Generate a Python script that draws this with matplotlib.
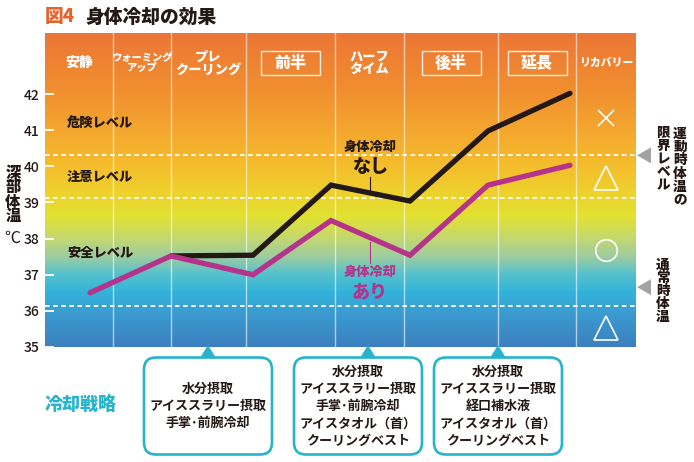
import matplotlib
matplotlib.use('Agg')
import matplotlib.pyplot as plt
import numpy as np
from matplotlib.colors import LinearSegmentedColormap
from matplotlib.patches import FancyBboxPatch, Rectangle, Polygon
import matplotlib.transforms as mtransforms

plt.rcParams['font.family'] = ['Noto Sans CJK JP', 'DejaVu Sans']

# ---------------- data ----------------
title_num = '図4'
title_text = '身体冷却の効果'
phases = ['安静', 'ウォーミング\nアップ', 'プレ\nクーリング', '前半', 'ハーフ\nタイム',
          '後半', '延長', 'リカバリー']
phase_sizes = [10, 7.4, 9.5, 11.5, 9.5, 11.5, 11.5, 7.8]
boxed_phases = ['前半', '後半', '延長']
phase_edges = [0, 68, 126, 201, 290, 359, 453, 531, 591]

x_cool = [45, 126, 208, 286, 365, 443, 525]
temp_cool = [36.5, 37.52, 37.0, 38.5, 37.54, 39.48, 40.03]
x_nocool = [126, 208, 286, 365, 443, 525]
temp_nocool = [37.52, 37.54, 39.48, 39.04, 40.98, 42.02]

yticks = [35, 36, 37, 38, 39, 40, 41, 42]
thresholds = [40.3, 39.13, 36.13]
levels = ['危険レベル', '注意レベル', '安全レベル']
level_temps = [41.2, 39.7, 37.6]
recovery_marks = ['x', '^', 'o', '^']
recovery_temps = [41.35, 39.68, 37.68, 35.52]

ref_temps = [40.3, 36.65]
ref_labels = [('運動時体温の', '限界レベル'), ('通常時体温',)]

strategy_title = '冷却戦略'
strategies = ['水分摂取\nアイススラリー摂取\n手掌･前腕冷却',
              '水分摂取\nアイススラリー摂取\n手掌･前腕冷却\nアイスタオル（首）\nクーリングベスト',
              '水分摂取\nアイススラリー摂取\n経口補水液\nアイスタオル（首）\nクーリングベスト']
strategy_pointer_x = [163, 323, 453]
strategy_box_x = [163, 313, 453]

# ---------------- styles ----------------
BLACK = '#231815'
PURPLE = '#B5338A'
CYAN = '#25B4CC'
ORANGE = '#E8632B'
HEAVY = 'black'

W, H = 694, 462
fig = plt.figure(figsize=(W / 100, H / 100), dpi=100)

ax_l, ax_r, ax_t, ax_b = 45, 636, 33, 347
ax = fig.add_axes([ax_l / W, (H - ax_b) / H, (ax_r - ax_l) / W, (ax_b - ax_t) / H])
ymin, ymax = 35, 43.69
ax.set_xlim(0, 591)
ax.set_ylim(ymin, ymax)

# gradient background
stops = [(35.0, '#3C7FC0'), (36.0, '#3A9ED2'), (36.5, '#33B3DA'), (37.0, '#55C1CF'),
         (37.5, '#9DCDA0'), (38.0, '#C3D870'), (38.6, '#E1E232'), (39.2, '#EDD32D'),
         (40.0, '#F5BE2C'), (41.0, '#F4A72F'), (42.0, '#F1912F'), (43.69, '#EC7636')]
cmap = LinearSegmentedColormap.from_list(
    'heat', [((t - ymin) / (ymax - ymin), c) for t, c in stops])
grad = np.linspace(ymin, ymax, 512).reshape(-1, 1)
ax.imshow(grad, extent=[0, 591, ymin, ymax], origin='lower', aspect='auto',
          cmap=cmap, vmin=ymin, vmax=ymax, zorder=0)

for s in ax.spines.values():
    s.set_visible(False)
ax.set_xticks([])
ax.set_yticks(yticks)
ax.set_yticklabels([str(v) for v in yticks])
ax.tick_params(axis='y', direction='in', length=6.5, width=1.3, color='white',
               pad=4, labelsize=10, labelcolor=BLACK)
for lab in ax.get_yticklabels():
    lab.set_fontweight('medium')

# column separators
for e in phase_edges[1:-1]:
    ax.axvline(e, color='white', lw=1, alpha=0.6, zorder=1)

# threshold dashed lines
for t in thresholds:
    ax.axhline(t, color='white', lw=1.3, dashes=(2.5, 2), zorder=1)

# header labels
trans = mtransforms.blended_transform_factory(ax.transData, ax.transAxes)
centers = [(phase_edges[i] + phase_edges[i + 1]) / 2 for i in range(len(phases))]
for c, p, fs in zip(centers, phases, phase_sizes):
    ax.text(c, 0.904, p, transform=trans, ha='center', va='center', color='white',
            fontsize=fs, fontweight=HEAVY, linespacing=0.95, zorder=5)
    if p in boxed_phases:
        ax.add_patch(Rectangle((c - 29.5, 0.866), 59, 0.0764, transform=trans,
                               fill=False, ec='white', lw=1, alpha=0.85, zorder=5))

# level labels
for lab, t in zip(levels, level_temps):
    ax.text(22, t, lab, ha='left', va='center', fontsize=9.5, fontweight=HEAVY,
            color=BLACK, zorder=5)

# data lines
ax.plot(x_nocool, temp_nocool, color=BLACK, lw=3.8, solid_capstyle='round',
        solid_joinstyle='miter', zorder=3)
ax.plot(x_cool, temp_cool, color=PURPLE, lw=3.8, solid_capstyle='round',
        solid_joinstyle='miter', zorder=4)

# line labels
lx = 325
ax.text(lx, 42 - (147 - 94) / 36.1, '身体冷却', ha='center', va='center',
        fontsize=9.5, fontweight=HEAVY, color=BLACK, zorder=5)
ax.text(lx, 42 - (166 - 94) / 36.1, 'なし', ha='center', va='center',
        fontsize=13, fontweight=HEAVY, color=BLACK, zorder=5)
ax.plot([lx, lx], [42 - (177 - 94) / 36.1, 42 - (190 - 94) / 36.1], color=BLACK,
        lw=0.8, zorder=5)
ax.text(lx, 42 - (272 - 94) / 36.1, '身体冷却', ha='center', va='center',
        fontsize=9.5, fontweight=HEAVY, color=PURPLE, zorder=5)
ax.text(lx, 42 - (292 - 94) / 36.1, 'あり', ha='center', va='center',
        fontsize=13, fontweight=HEAVY, color=PURPLE, zorder=5)
ax.plot([lx, lx], [42 - (242 - 94) / 36.1, 42 - (263 - 94) / 36.1], color=PURPLE,
        lw=0.8, zorder=5)

# recovery marks
rc = centers[-1]
for m, t in zip(recovery_marks, recovery_temps):
    if m == 'x':
        ax.plot(rc, t, marker='x', ms=12, mew=1.2, color='white', zorder=5)
    elif m == '^':
        ax.plot(rc, t, marker='^', ms=17, mew=1.2, mfc='none', mec='white', zorder=5)
    else:
        ax.plot(rc, t, marker='o', ms=15.5, mew=1.2, mfc='none', mec='white', zorder=5)

# ---------------- overlay (pixel coords) ----------------
ov = fig.add_axes([0, 0, 1, 1], zorder=10)
ov.set_xlim(0, W)
ov.set_ylim(H, 0)
ov.axis('off')
ov.patch.set_alpha(0)


def ty(t):
    return 94 + (42 - t) * 36.1


# title
ov.text(45, 17, title_num, ha='left', va='center', fontsize=13.5,
        fontweight=HEAVY, color=ORANGE)
ov.text(85, 17, title_text, ha='left', va='center', fontsize=13.5,
        fontweight=HEAVY, color=BLACK)

# y label
ov.text(13, 195, '深\n部\n体\n温', ha='center', va='center', fontsize=11,
        fontweight=HEAVY, color=BLACK, linespacing=0.92)
ov.text(12, 238, '℃', ha='center', va='center', fontsize=11.5, color=BLACK)

# right reference arrows and text
for t in ref_temps:
    y = ty(t)
    ov.add_patch(Polygon([(637, y), (651, y - 8), (651, y + 8)], closed=True,
                         fc='#A3A3A3', ec='none'))
ov.text(680, 167, '\n'.join(ref_labels[0][0]), ha='center', va='center',
        fontsize=9.8, fontweight=HEAVY, color=BLACK, linespacing=0.92)
ov.text(663, 159, '\n'.join(ref_labels[0][1]), ha='center', va='center',
        fontsize=9.8, fontweight=HEAVY, color=BLACK, linespacing=0.92)
ov.text(663, 291, '\n'.join(ref_labels[1][0]), ha='center', va='center',
        fontsize=9.8, fontweight=HEAVY, color=BLACK, linespacing=0.92)

# strategies
ov.text(45, 404, strategy_title, ha='left', va='center', fontsize=13,
        fontweight=HEAVY, color=CYAN)
for bx, px, txt in zip(strategy_box_x, strategy_pointer_x, strategies):
    cx = bx + ax_l
    pxa = px + ax_l
    ov.add_patch(FancyBboxPatch((cx - 64, 357.5), 128, 97,
                                boxstyle='round,pad=0,rounding_size=12',
                                fc='white', ec=CYAN, lw=1.9))
    ov.add_patch(Polygon([(pxa - 8, 358), (pxa + 8, 358), (pxa, 345)], closed=True,
                         fc=CYAN, ec='none'))
    ov.text(cx, 406, txt, ha='center', va='center', fontsize=9.4, fontweight='bold',
            color=BLACK, linespacing=1.3, multialignment='center')

fig.savefig('out.png', dpi=100)
